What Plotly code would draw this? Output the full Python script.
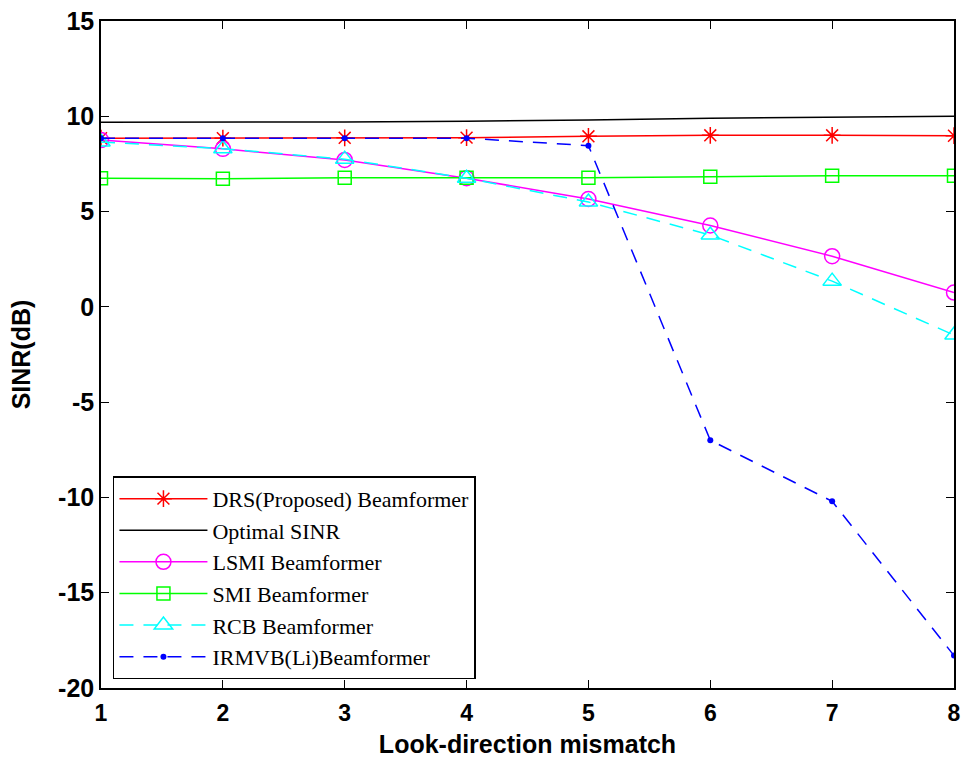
import plotly.graph_objects as go

# Look-direction mismatch (degrees)
mismatch = [1, 2, 3, 4, 5, 6, 7, 8]

# Output SINR (dB) of each beamformer
sinr_drs = [8.85, 8.85, 8.87, 8.88, 8.95, 9.0, 9.0, 8.98]
sinr_optimal = [9.69, 9.69, 9.7, 9.74, 9.8, 9.9, 9.95, 10.0]
sinr_lsmi = [8.75, 8.29, 7.71, 6.75, 5.66, 4.27, 2.66, 0.75]
sinr_smi = [6.75, 6.72, 6.78, 6.78, 6.78, 6.83, 6.88, 6.88]
sinr_rcb = [8.65, 8.3, 7.75, 6.75, 5.5, 3.77, 1.35, -1.48]
sinr_irmvb = [8.85, 8.85, 8.85, 8.85, 8.46, -7.0, -10.2, -18.3]

x_ticks = [1, 2, 3, 4, 5, 6, 7, 8]
y_ticks = [15, 10, 5, 0, -5, -10, -15, -20]
y_tick_text = ["15", "10", "5", "0", "-5", "-10", "-15", "-20"]

fig = go.Figure()

fig.add_trace(go.Scatter(
    x=mismatch, y=sinr_drs, name="DRS(Proposed) Beamformer",
    mode="lines+markers",
    line=dict(color="#ff0000", width=1.5),
    marker=dict(symbol="asterisk-open", size=14, color="#ff0000",
                line=dict(color="#ff0000", width=1.5)),
))
fig.add_trace(go.Scatter(
    x=mismatch, y=sinr_optimal, name="Optimal SINR",
    mode="lines",
    line=dict(color="#000000", width=1.5),
))
fig.add_trace(go.Scatter(
    x=mismatch, y=sinr_lsmi, name="LSMI Beamformer",
    mode="lines+markers",
    line=dict(color="#ff00ff", width=1.5),
    marker=dict(symbol="circle-open", size=15, color="#ff00ff",
                line=dict(color="#ff00ff", width=1.5)),
))
fig.add_trace(go.Scatter(
    x=mismatch, y=sinr_smi, name="SMI Beamformer",
    mode="lines+markers",
    line=dict(color="#00ff00", width=1.5),
    marker=dict(symbol="square-open", size=13, color="#00ff00",
                line=dict(color="#00ff00", width=1.5)),
))
fig.add_trace(go.Scatter(
    x=mismatch, y=sinr_rcb, name="RCB Beamformer",
    mode="lines+markers",
    line=dict(color="#00ffff", width=1.5, dash="14px,10px"),
    marker=dict(symbol="triangle-up-open", size=16, color="#00ffff",
                line=dict(color="#00ffff", width=1.5)),
))
fig.add_trace(go.Scatter(
    x=mismatch, y=sinr_irmvb, name="IRMVB(Li)Beamformer",
    mode="lines+markers",
    line=dict(color="#0000ff", width=1.5, dash="14px,10px"),
    marker=dict(symbol="circle", size=6, color="#0000ff"),
))

sans = "Liberation Sans, Arial"
axis_common = dict(
    showline=True, linecolor="black", linewidth=1.5, mirror="ticks",
    ticks="inside", ticklen=8, tickcolor="black", tickwidth=1,
    showgrid=False, zeroline=False, ticklabeloverflow="allow",
)

fig.update_xaxes(
    range=[1, 8], tickvals=x_ticks,
    tickfont=dict(family=sans, size=23, color="black", weight="bold"),
    ticklabelstandoff=4,
    title=dict(text="Look-direction mismatch", standoff=10,
               font=dict(family=sans, size=25, color="black", weight="bold")),
    **axis_common,
)
fig.update_yaxes(
    range=[-20, 15], tickvals=y_ticks, ticktext=y_tick_text,
    tickfont=dict(family=sans, size=25, color="black", weight="bold"),
    title=dict(text="SINR(dB)", standoff=20,
               font=dict(family=sans, size=25, color="black", weight="bold")),
    **axis_common,
)

fig.update_layout(
    width=962, height=760,
    margin=dict(l=101, r=8, t=21, b=72, autoexpand=False),
    paper_bgcolor="white", plot_bgcolor="white",
    legend=dict(
        x=0.014, y=0.013, xanchor="left", yanchor="bottom",
        bgcolor="white", bordercolor="black", borderwidth=1.5,
        font=dict(family="Liberation Serif, Times New Roman", size=22, color="black"),
        itemwidth=88, tracegroupgap=0,
    ),
    showlegend=True,
)

fig.write_html("out.html")
